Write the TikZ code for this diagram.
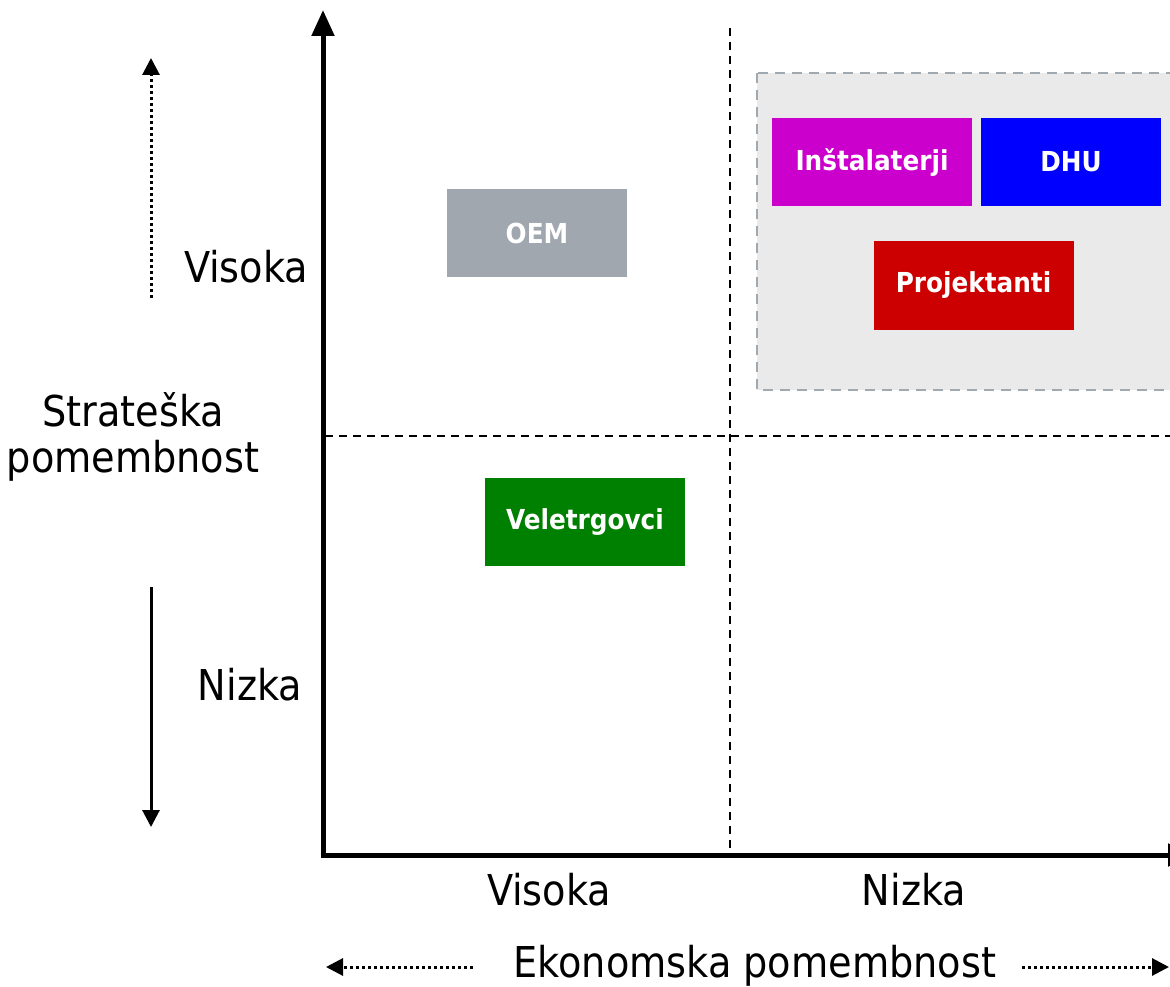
\documentclass[tikz,border=0pt]{standalone}
\usepackage{fontspec}
\setmainfont{DejaVu Sans Condensed}
\usetikzlibrary{arrows.meta}
\definecolor{oemc}{HTML}{A0A7AF}
\definecolor{instc}{HTML}{CC00CC}
\definecolor{dhuc}{HTML}{0000FF}
\definecolor{projc}{HTML}{CC0000}
\definecolor{velc}{HTML}{008000}
\definecolor{grpfill}{HTML}{EAEAEA}
\definecolor{grpline}{HTML}{A0A8B0}
\tikzset{
  box/.style={draw=none, minimum width=200pt, minimum height=88pt, inner sep=0pt, text=white, font=\fontsize{27.5}{33}\selectfont\bfseries},
  lbl/.style={font=\fontsize{42.5}{50}\selectfont, inner sep=0pt},
  axis/.style={line width=5pt, -{Triangle[length=26pt,width=22pt]}},
  grid/.style={line width=2pt, dash pattern=on 8pt off 6pt},
  hint/.style={line width=3pt, -{Triangle[length=17pt,width=17pt]}},
  hintdot/.style={hint, dash pattern=on 3pt off 3pt}
}
\begin{document}
\begin{tikzpicture}[x=1pt,y=-1pt]
\useasboundingbox (0,0) rectangle (1170,987);
% group box
\draw[grpline, fill=grpfill, line width=2.5pt, dash pattern=on 10pt off 7pt] (757,73) rectangle (1185,390);
% quadrant lines
\coordinate (vtop) at (730,28);
\coordinate (vbot) at (730,852);
\coordinate (hl) at (325,436);
\coordinate (hr) at (1172,436);
\draw[grid] (vtop) -- (vbot);
\draw[grid] (hl) -- (hr);
% axes
\coordinate (origin) at (323,855);
\coordinate (ytip) at (323,10);
\coordinate (xtip) at (1194,855);
\draw[axis] ([yshift=-2.5pt]origin) -- (ytip);
\draw[axis] ([xshift=-2.5pt]origin) -- (xtip);
% boxes
\node[box, fill=oemc, minimum width=180pt] (oem) at (537,233) {OEM};
\node[box, fill=velc] (vel) at (585,522) {Veletrgovci};
\node[box, fill=instc] (inst) at (872,162) {Inštalaterji};
\node[box, fill=dhuc, minimum width=180pt] (dhu) at (1071,162) {DHU};
\node[box, fill=projc] (proj) at (973.5,285.5) {Projektanti};
% labels
\node[lbl] (vy) at (246,267) {Visoka};
\node[lbl] (ny) at (250,685) {Nizka};
\node[lbl] (s1) at (133,410) {Strateška};
\node[lbl] (s2) at (133,461) {pomembnost};
\node[lbl] (vx) at (549,890) {Visoka};
\node[lbl] (nx) at (914,890) {Nizka};
\node[lbl] (ek) at (755,966) {Ekonomska pomembnost};
% hint arrows
\coordinate (u0) at (151,298);
\coordinate (u1) at (151,58);
\coordinate (d0) at (151,587);
\coordinate (d1) at (151,827);
\coordinate (l0) at (473,967);
\coordinate (l1) at (326,967);
\coordinate (r0) at (1022,967);
\coordinate (r1) at (1169,967);
\draw[hintdot] (u0) -- (u1);
\draw[hint] (d0) -- (d1);
\draw[hintdot] (l0) -- (l1);
\draw[hintdot] (r0) -- (r1);
\end{tikzpicture}
\end{document}
